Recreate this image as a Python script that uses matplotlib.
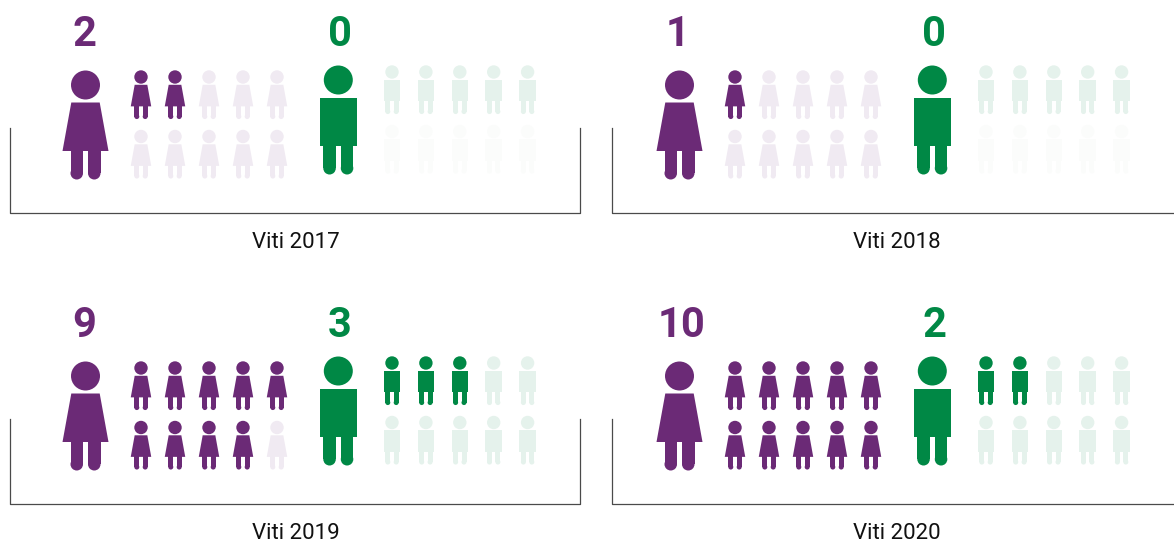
import matplotlib
matplotlib.use("Agg")
import matplotlib.pyplot as plt
from matplotlib.patches import Circle, Polygon, Rectangle

plt.rcParams['font.family'] = ['Roboto', 'Liberation Sans', 'DejaVu Sans']

years = ['Viti 2017', 'Viti 2018', 'Viti 2019', 'Viti 2020']
women = [2, 1, 9, 10]
men = [0, 0, 3, 2]
# the lower row of men is almost invisible in the two upper panels
men_row2_faded = [True, True, False, False]

PURPLE = '#6b2a76'
PURPLE_LIGHT = '#f0eaf2'
GREEN = '#008845'
GREEN_LIGHT = '#e5f2ec'
GREEN_FADED = '#fbfcfb'

SMALL = 0.445


def legs(ax, x, top, bottom, s, color):
    # small figures have thinner legs with more room between them
    width = 12.5 if s == 1 else 5
    half_gap = 2.5 if s == 1 else 1.7
    r = width / 2
    for cx in (x - half_gap - r, x + half_gap + r):
        ax.add_patch(Rectangle((cx - r, top), width, bottom - r - top, fc=color, ec='none'))
        ax.add_patch(Circle((cx, bottom - r), r, fc=color, ec='none'))


def woman(ax, x, y, s, color):
    # y is the centre of the head, s=1 is the big figure
    ax.add_patch(Circle((x, y), 14.5 if s == 1 else 6.7, fc=color, ec='none'))
    top, bot = y + 17.5 * s, y + 66 * s
    ax.add_patch(Polygon([(x - 14.2 * s, top), (x + 14.2 * s, top),
                          (x + 23 * s, bot), (x - 23 * s, bot)], fc=color, ec='none'))
    legs(ax, x, bot - 0.5, y + 94.5 * s, s, color)


def man(ax, x, y, s, color):
    ax.add_patch(Circle((x, y), 14.5 if s == 1 else 6.7, fc=color, ec='none'))
    top, bot = y + 17.5 * s, y + 66 * s
    ax.add_patch(Rectangle((x - 18.5 * s, top), 37 * s, bot - top, fc=color, ec='none'))
    legs(ax, x, bot - 0.5, y + 94.5 * s, s, color)


fig = plt.figure(figsize=(11.74, 5.44), dpi=100)
ax = fig.add_axes([0, 0, 1, 1])
ax.set_xlim(0, 1174)
ax.set_ylim(544, 0)
ax.axis('off')

for i in range(4):
    dx = 594 * (i % 2)
    dy = 291 * (i // 2)

    # bracket round each panel, the right hand ones run off the picture
    left = 10 + 602 * (i % 2)
    if i % 2 == 0:
        ax.plot([left, left, 580, 580], [128 + dy, 213 + dy, 213 + dy, 128 + dy], color='#4a4a4a', lw=0.9)
    else:
        ax.plot([left, left, 1174], [128 + dy, 213 + dy, 213 + dy], color='#4a4a4a', lw=0.9)

    ax.text(84 + dx + (4 if women[i] > 9 else 0), 46 + dy, str(women[i]), color=PURPLE, fontsize=30,
            fontweight='bold', ha='center', va='baseline')
    ax.text(340 + dx, 46 + dy, str(men[i]), color=GREEN, fontsize=30,
            fontweight='bold', ha='center', va='baseline')
    ax.text(296 + 601 * (i % 2), 248 + dy, years[i], color='#111111', fontsize=16, ha='center', va='baseline')

    woman(ax, 85.5 + dx, 85 + dy, 1, PURPLE)
    man(ax, 338.3 + dx, 80 + dy, 1, GREEN)

    for k in range(10):
        col = k % 5
        row = k // 5
        color = PURPLE if k < women[i] else PURPLE_LIGHT
        woman(ax, 141 + 34 * col + dx, 77 + 59.5 * row + dy, SMALL, color)

        color = GREEN if k < men[i] else GREEN_LIGHT
        if row == 1 and men_row2_faded[i]:
            color = GREEN_FADED
        man(ax, 392 + 33.9 * col + dx, 72 + 59.5 * row + dy, SMALL, color)

fig.savefig('out.png', dpi=100)
